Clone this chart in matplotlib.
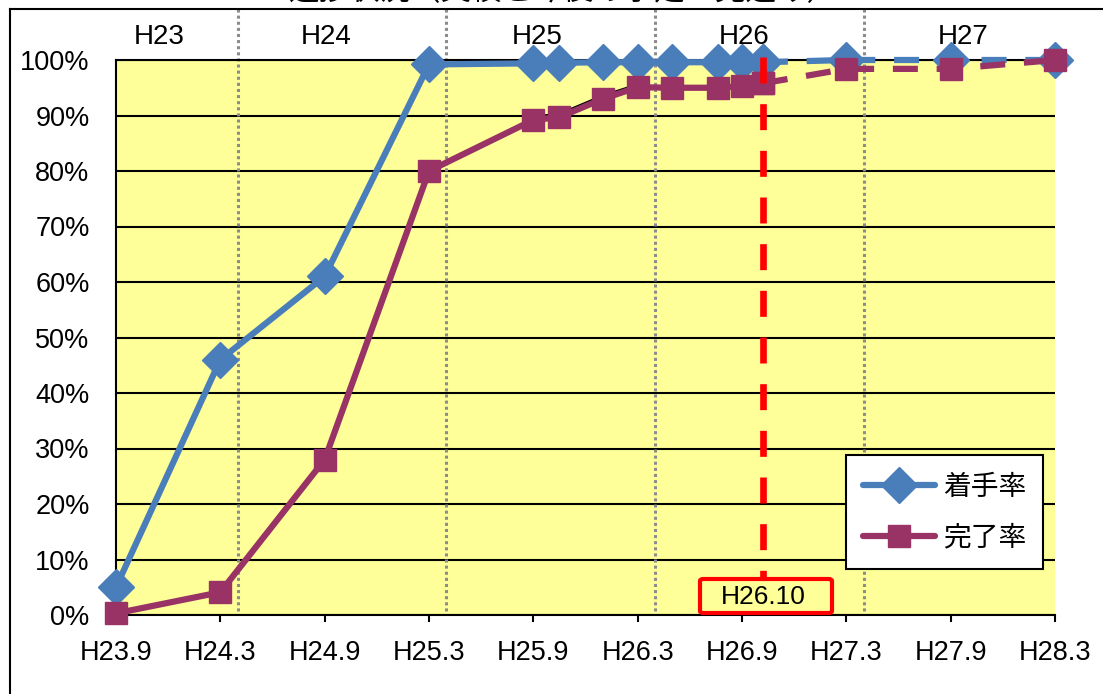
import numpy as np
import matplotlib.pyplot as plt
import matplotlib.transforms as mtransforms
from matplotlib.lines import Line2D
from matplotlib.patches import FancyBboxPatch

plt.rcParams['font.family'] = ['Liberation Sans', 'Noto Sans CJK JP']

# Monate ab H23.9 (Index 0) und Fortschritt in %
monate = [0, 6, 12, 18, 24, 25.5, 28, 30, 32, 34.6, 36, 37.2, 42, 48, 54]
chakushu = [5, 46, 61, 99.2, 99.4, 99.5, 99.6, 99.6, 99.6, 99.6, 99.6, 99.6, 100, 100, 100]
kanryo = [0.3, 4.1, 28, 80, 89.2, 89.7, 93, 95.1, 95, 95, 95.3, 95.8, 98.4, 98.4, 100]
# duenne schwarze Linie unter dem Abschnitt H25.9 - H26.3
schwarz_monate = [24, 25.5, 28, 30]
schwarz_werte = [89.8, 90.3, 93.6, 95.6]
idx_heute = 11  # ab hier Prognose (gestrichelt)
heute = 37.2
heute_label = "H26.10"

tick_monate = [0, 6, 12, 18, 24, 30, 36, 42, 48, 54]
tick_labels = ["H23.9", "H24.3", "H24.9", "H25.3", "H25.9", "H26.3", "H26.9", "H27.3", "H27.9", "H28.3"]
jahres_grenzen = [7, 19, 31, 43]
jahre = ["H23", "H24", "H25", "H26", "H27"]
jahre_pos = [2.5, 12.1, 24.2, 36.1, 48.7]

W, H = 1103, 694
fig = plt.figure(figsize=(W / 100, H / 100), dpi=100)
L, R, T, B = 116, 1055, 60, 615
ax = fig.add_axes([L / W, 1 - B / H, (R - L) / W, (B - T) / H])

def ay(py):
    return (B - py) / (B - T)

blau = '#4A7EBB'
lila = '#993366'
ax.set_facecolor('#FFFF99')
ax.set_xlim(0, 54)
ax.set_ylim(0, 100)

ax.set_yticks(np.arange(0, 101, 10))
ax.set_yticklabels([f"{v}%" for v in range(0, 101, 10)], fontsize=19.5)
ax.set_xticks(tick_monate)
ax.set_xticklabels(tick_labels, fontsize=19.5)
ax.tick_params(axis='y', length=0, pad=19)
ax.tick_params(axis='x', length=5, width=1.5, pad=13, direction='out')
ax.yaxis.grid(True, color='black', lw=1.5)
ax.set_axisbelow(True)
ax.spines['right'].set_visible(False)
for s in ['left', 'bottom', 'top']:
    ax.spines[s].set_linewidth(1.5)

trans = mtransforms.blended_transform_factory(ax.transData, ax.transAxes)

# Geschaeftsjahresgrenzen (gepunktet)
for g in jahres_grenzen:
    ax.plot([g, g], [ay(9), 0], transform=trans, color='#8C8C8C', lw=2.2,
            ls=(0, (1, 1)), clip_on=False, zorder=1)
for j, p in zip(jahre, jahre_pos):
    ax.text(p, ay(37), j, transform=trans, ha='center', va='center', fontsize=20)

ax.plot(schwarz_monate, schwarz_werte, color='black', lw=1.6, zorder=3)

# Ist-Werte durchgezogen, Prognose gestrichelt
ax.plot(monate[:idx_heute + 1], chakushu[:idx_heute + 1], color=blau, lw=4.5,
        marker='D', ms=18, clip_on=False, zorder=4)
ax.plot(monate[idx_heute:], chakushu[idx_heute:], color=blau, lw=4.5, ls=(0, (4, 3)),
        marker='D', ms=18, clip_on=False, zorder=4)
ax.plot(monate[:idx_heute + 1], kanryo[:idx_heute + 1], color=lila, lw=4.5,
        marker='s', ms=16, clip_on=False, zorder=5)
ax.plot(monate[idx_heute:], kanryo[idx_heute:], color=lila, lw=4.5, ls=(0, (4, 3)),
        marker='s', ms=16, clip_on=False, zorder=5)

# Stichtag
ax.plot([heute, heute], [ay(57), ay(578)], transform=trans, color='red', lw=4.8,
        ls=(0, (3.9, 3.1)), clip_on=False, zorder=6)
box = FancyBboxPatch((700 / W, 1 - 613 / H), 132 / W, 34 / H, boxstyle='round,pad=0,rounding_size=0.003',
                     transform=fig.transFigure, fc='#FFFF99', ec='red', lw=3, zorder=7)
ax.add_artist(box)
box.set_clip_on(False)
ax.text(heute, ay(597), heute_label, transform=trans, ha='center', va='center',
        fontsize=19, zorder=8)

handles = [Line2D([], [], color=blau, lw=4.5, marker='D', ms=18, solid_capstyle='round'),
           Line2D([], [], color=lila, lw=4.5, marker='s', ms=16, solid_capstyle='round')]
leg = ax.legend(handles, ["着手率", "完了率"], loc='upper left',
                bbox_to_anchor=((846 - L) / (R - L), ay(455)), borderaxespad=0, fancybox=False,
                edgecolor='black', framealpha=1, handlelength=2.6, handletextpad=0.3,
                labelspacing=0.75, borderpad=0.6, prop={'family': 'Noto Sans CJK JP', 'size': 20})
leg.get_frame().set_linewidth(1.5)
leg.set_zorder(9)

# Rahmen und abgeschnittener Titel
fig.add_artist(Line2D([10 / W, 1], [1 - 9 / H, 1 - 9 / H], color='black', lw=1.5))
fig.add_artist(Line2D([10 / W, 10 / W], [0, 1 - 9 / H], color='black', lw=1.5))
fig.text(563 / W, 1 + 8 / H, "進捗状況（実績と今後の予定・見込み）", ha='center', va='center',
         fontsize=22, family='Noto Sans CJK JP')

fig.savefig('out.png', dpi=100)
